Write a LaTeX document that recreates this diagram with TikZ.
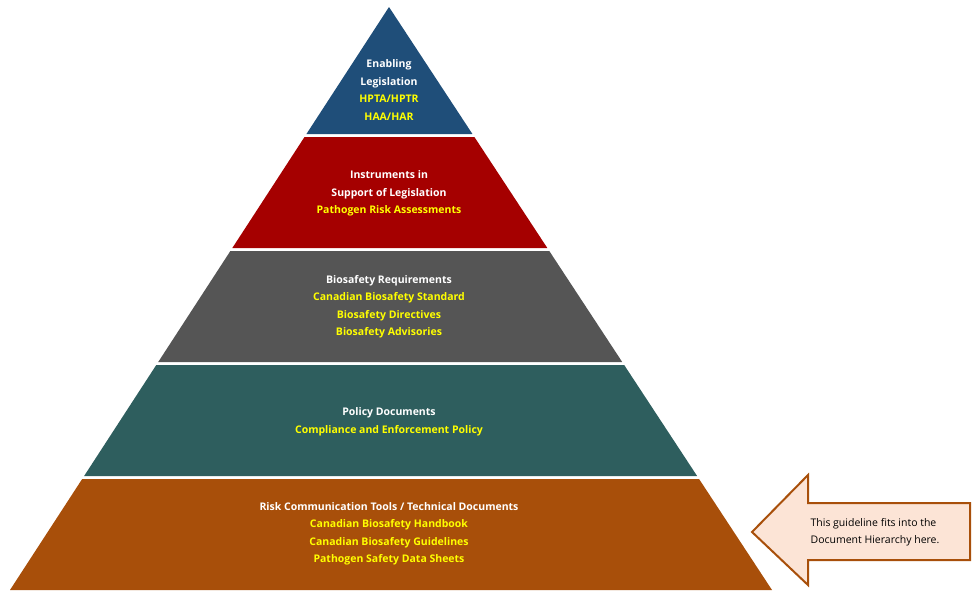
\documentclass[tikz,border=0pt]{standalone}
\usepackage{fontspec}
\setmainfont{Open Sans}
\usetikzlibrary{calc}
\definecolor{layerA}{HTML}{1F4E79}
\definecolor{layerB}{HTML}{A50000}
\definecolor{layerC}{HTML}{555555}
\definecolor{layerD}{HTML}{2E5E5E}
\definecolor{layerE}{HTML}{A84F0A}
\definecolor{notefill}{HTML}{FCE4D6}
\definecolor{noteline}{HTML}{A84F0A}
\definecolor{hilite}{HTML}{FFFF00}
\tikzset{
  lbl/.style={font=\bfseries\fontsize{10.5}{17.5}\selectfont, text=white, align=center},
  note/.style={font=\fontsize{10.5}{17.5}\selectfont, align=left}
}
\newcommand{\hl}[1]{\textcolor{hilite}{#1}}
\begin{document}
\begin{tikzpicture}[x=1pt,y=-1pt]
  \useasboundingbox (0,0) rectangle (978,595);
  % pyramid layers: top / bottom / colour
  \foreach \t/\b/\c in {7/134/layerA, 137/248/layerB, 251/362/layerC, 365/476/layerD, 479/590/layerE}{
    \pgfmathsetmacro{\tl}{389-(\t-7)/583*379}
    \pgfmathsetmacro{\tr}{389+(\t-7)/583*383}
    \pgfmathsetmacro{\bl}{389-(\b-7)/583*379}
    \pgfmathsetmacro{\br}{389+(\b-7)/583*383}
    \fill[\c] (\tl,\t) -- (\tr,\t) -- (\br,\b) -- (\bl,\b) -- cycle;
  }
  % layer texts
  \node[lbl] (leg) at (389,90) {Enabling\\Legislation\\\hl{HPTA/HPTR}\\\hl{HAA/HAR}};
  \node[lbl] (ins) at (389,193.5) {Instruments in\\Support of Legislation\\\hl{Pathogen Risk Assessments}};
  \node[lbl] (req) at (389,306.5) {Biosafety Requirements\\\hl{Canadian Biosafety Standard}\\\hl{Biosafety Directives}\\\hl{Biosafety Advisories}};
  \node[lbl] (pol) at (389,422) {Policy Documents\\\hl{Compliance and Enforcement Policy}};
  \node[lbl] (rct) at (389,534) {Risk Communication Tools / Technical Documents\\\hl{Canadian Biosafety Handbook}\\\hl{Canadian Biosafety Guidelines}\\\hl{Pathogen Safety Data Sheets}};
  % pointer arrow
  \coordinate (tip) at (752,532);
  \draw[noteline, fill=notefill, line width=2pt, line join=miter]
    (tip) -- (808,475) -- (808,503) -- (970,503) -- (970,560) -- (808,560) -- (808,585) -- cycle;
  \node[note] (here) at (875,532) {This guideline fits into the\\Document Hierarchy here.};
\end{tikzpicture}
\end{document}
